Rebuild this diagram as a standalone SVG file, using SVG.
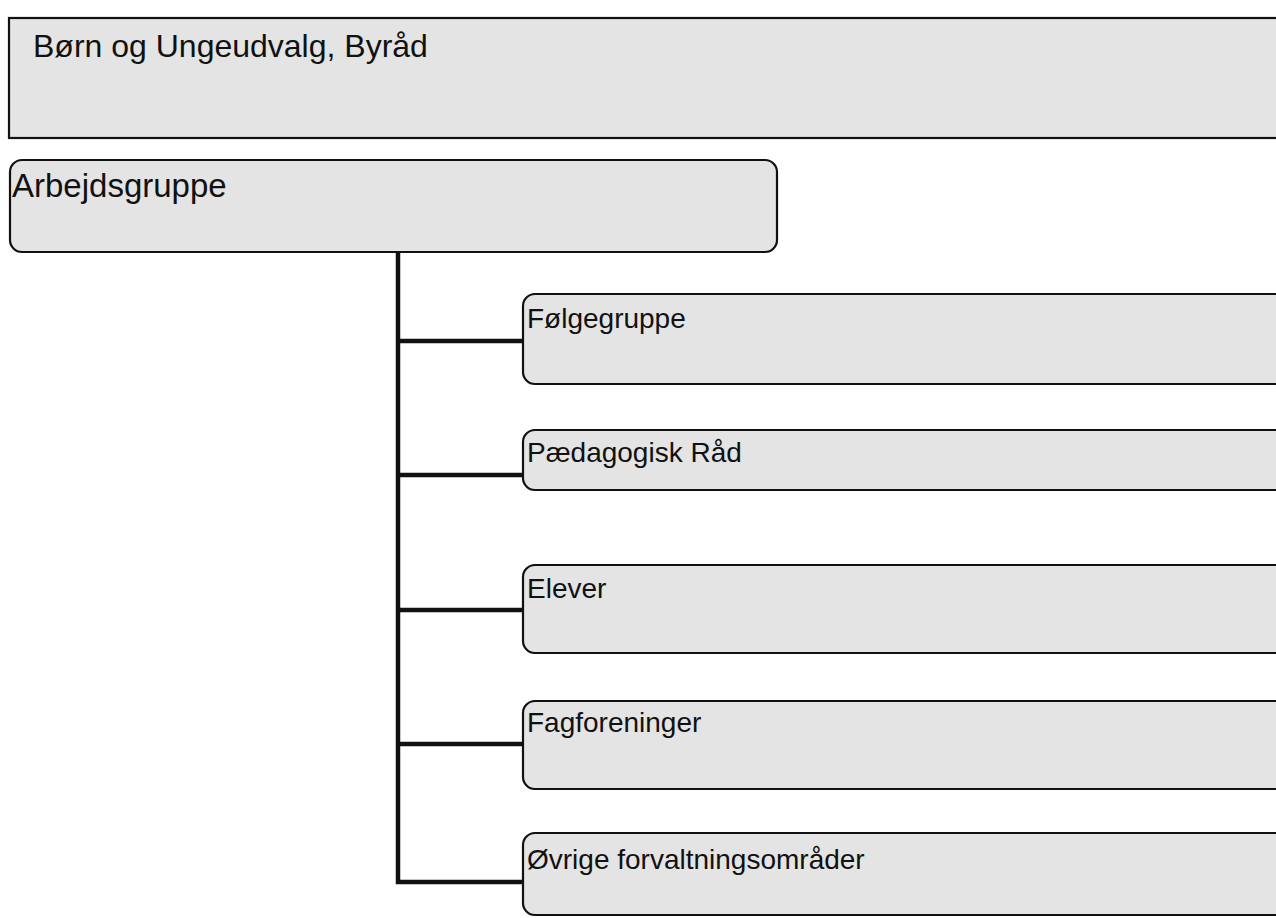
<svg xmlns="http://www.w3.org/2000/svg" width="1276" height="918" viewBox="0 0 1276 918">
<style>
.box{fill:#e4e4e4;stroke:#111;stroke-width:2.2}
.lbl{font-family:"Liberation Sans",Arial,sans-serif;fill:#111}
.big{font-size:32px}
.mid{font-size:33px}
.sm{font-size:28px}
.conn{fill:none;stroke:#111;stroke-width:4.5}
</style>
<rect width="1276" height="918" fill="#fff"/>
<g id="connectors">
<path class="conn" d="M398,252 V882 H523"/>
<path class="conn" d="M398,341 H523"/>
<path class="conn" d="M398,475 H523"/>
<path class="conn" d="M398,610 H523"/>
<path class="conn" d="M398,744 H523"/>
</g>
<g id="byraad">
<rect class="box" x="9" y="18" width="1300" height="120"/>
<text class="lbl big" x="33" y="57">Børn og Ungeudvalg, Byråd</text>
</g>
<g id="arbejdsgruppe">
<rect class="box" x="10" y="160" width="767" height="92" rx="12"/>
<text class="lbl mid" x="12" y="197">Arbejdsgruppe</text>
</g>
<g id="foelgegruppe">
<rect class="box" x="523" y="294" width="800" height="90" rx="12"/>
<text class="lbl sm" x="527" y="328">Følgegruppe</text>
</g>
<g id="paedagogisk">
<rect class="box" x="523" y="430" width="800" height="60" rx="12"/>
<text class="lbl sm" x="527" y="462">Pædagogisk Råd</text>
</g>
<g id="elever">
<rect class="box" x="523" y="565" width="800" height="88" rx="12"/>
<text class="lbl sm" x="527" y="598">Elever</text>
</g>
<g id="fagforeninger">
<rect class="box" x="523" y="701" width="800" height="88" rx="12"/>
<text class="lbl sm" x="527" y="732">Fagforeninger</text>
</g>
<g id="oevrige">
<rect class="box" x="523" y="833" width="800" height="82" rx="12"/>
<text class="lbl sm" x="527" y="869">Øvrige forvaltningsområder</text>
</g>
</svg>
